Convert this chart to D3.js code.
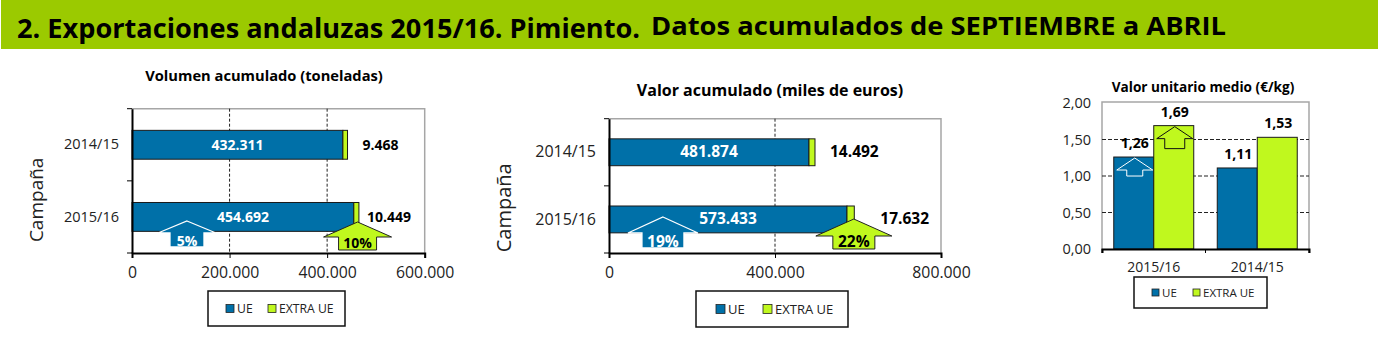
<!DOCTYPE html>
<html>
<head>
<meta charset="utf-8">
<script src="https://cdn.jsdelivr.net/npm/d3@7/dist/d3.min.js"></script>
<style>
  html, body { margin: 0; padding: 0; background: #fff; }
  svg { display: block; }
  text { font-family: 'Open Sans', sans-serif; fill: #222; }
  .bold { font-weight: 700; fill: #000; }
</style>
</head>
<body>
<svg id="chart" width="1378" height="351"></svg>
<script>
const campaigns = ['2014/15', '2015/16'];
const seriesNames = ['UE', 'EXTRA UE'];

const volumeUe = [432311, 454692];
const volumeExtra = [9468, 10449];
const volumeTicks = [0, 200000, 400000, 600000];
const volumeChange = ['5%', '10%'];

const valueUe = [481874, 573433];
const valueExtra = [14492, 17632];
const valueTicks = [0, 400000, 800000];
const valueChange = ['19%', '22%'];

const unitCampaigns = ['2015/16', '2014/15'];
const unitUe = [1.26, 1.11];
const unitExtra = [1.69, 1.53];
const unitTicks = [0, 0.5, 1, 1.5, 2];

const blue = '#0070a8',
  green = '#c0f81e',
  banner = '#9bca00',
  frame = '#a6a6a6';

const esLocale = d3.formatLocale({
  decimal: ',',
  thousands: '.',
  grouping: [3],
  currency: ['', ''],
});
const fmtInt = esLocale.format(',d');
const fmtDec = esLocale.format('.2f');

const svg = d3.select('#chart');

// header banner
svg.append('rect').attr('x', 1).attr('y', 0).attr('width', 1377).attr('height', 49).attr('fill', banner);
svg.append('text').attr('class', 'bold').attr('x', 17).attr('y', 38)
  .attr('font-size', 26).attr('textLength', 623).attr('lengthAdjust', 'spacingAndGlyphs')
  .text('2. Exportaciones andaluzas 2015/16. Pimiento.');
svg.append('text').attr('class', 'bold').attr('x', 651).attr('y', 35)
  .attr('font-size', 25).attr('textLength', 575).attr('lengthAdjust', 'spacingAndGlyphs')
  .text('Datos acumulados de SEPTIEMBRE a ABRIL');

// up arrow, tip at (cx, tip)
const arrowPath = (cx, tip, wing, head, shaft, total) => {
  const p = d3.path();
  p.moveTo(cx, tip);
  p.lineTo(cx + wing, tip + head);
  p.lineTo(cx + shaft, tip + head);
  p.lineTo(cx + shaft, tip + total);
  p.lineTo(cx - shaft, tip + total);
  p.lineTo(cx - shaft, tip + head);
  p.lineTo(cx - wing, tip + head);
  p.closePath();
  return p.toString();
};

function legend(o) {
  const g = svg.append('g');
  g.append('rect').attr('x', o.x).attr('y', o.y).attr('width', o.w).attr('height', o.h)
    .attr('fill', '#fff').attr('stroke', '#111').attr('stroke-width', 1.5);
  seriesNames.forEach((name, i) => {
    const cy = o.y + o.h / 2;
    g.append('rect').attr('x', o.swatch[i]).attr('y', cy - o.size / 2)
      .attr('width', o.size).attr('height', o.size)
      .attr('fill', i ? green : blue).attr('stroke', '#222').attr('stroke-width', 0.8);
    g.append('text').attr('x', o.swatch[i] + o.size + 3).attr('y', cy + o.font * 0.36)
      .attr('font-size', o.font).text(name);
  });
}

function hbarChart(o) {
  const g = svg.append('g');
  const [left, right] = o.xRange;
  const [top, bottom] = o.yRange;

  const x = d3.scaleLinear().domain(d3.extent(o.ticks)).range(o.xRange);
  const y = d3.scaleBand().domain(campaigns).range(o.yRange).paddingInner(o.padding).paddingOuter(o.padding / 2);

  // frame and dashed grid
  g.append('path').attr('d', `M${left},${top}H${right}V${bottom}`)
    .attr('fill', 'none').attr('stroke', frame).attr('stroke-width', 1.5);
  g.selectAll('.grid').data(o.ticks.slice(1, -1)).enter().append('line')
    .attr('x1', d => x(d)).attr('x2', d => x(d)).attr('y1', top).attr('y2', bottom)
    .attr('stroke', '#222').attr('stroke-width', 1).attr('stroke-dasharray', '3,2');

  // bars
  campaigns.forEach((c, i) => {
    const ue = o.ue[i], extra = o.extra[i];
    g.append('rect').attr('x', x(0)).attr('y', y(c)).attr('width', x(ue) - x(0)).attr('height', y.bandwidth())
      .attr('fill', blue).attr('stroke', '#1a1a1a').attr('stroke-width', 1);
    g.append('rect').attr('x', x(ue)).attr('y', y(c)).attr('width', x(ue + extra) - x(ue)).attr('height', y.bandwidth())
      .attr('fill', green).attr('stroke', '#1a1a1a').attr('stroke-width', 1);
    g.append('text').attr('class', 'bold').style('fill', '#fff')
      .attr('x', x(ue / 2)).attr('y', y(c) + y.bandwidth() / 2 + 5)
      .attr('text-anchor', 'middle').attr('font-size', o.valueFont).text(fmtInt(ue));
    g.append('text').attr('class', 'bold')
      .attr('x', x(ue + extra) + o.extraGap[i]).attr('y', y(c) + y.bandwidth() / 2 + 5)
      .attr('font-size', o.valueFont).text(fmtInt(extra));
  });

  // change arrows on the last campaign
  const blueArrow = o.blueArrow, greenArrow = o.greenArrow;
  g.append('path').attr('d', arrowPath(x(blueArrow.at), blueArrow.tip, blueArrow.wing, blueArrow.head, blueArrow.shaft, blueArrow.total))
    .attr('fill', blue).attr('stroke', '#fff').attr('stroke-width', 1.3);
  g.append('text').attr('class', 'bold').style('fill', '#fff').attr('text-anchor', 'middle')
    .attr('x', x(blueArrow.at)).attr('y', blueArrow.tip + blueArrow.total - 1.5)
    .attr('font-size', o.valueFont).text(o.change[0]);
  g.append('path').attr('d', arrowPath(x(greenArrow.at), greenArrow.tip, greenArrow.wing, greenArrow.head, greenArrow.shaft, greenArrow.total))
    .attr('fill', green).attr('stroke', '#222').attr('stroke-width', 1);
  g.append('text').attr('class', 'bold').attr('text-anchor', 'middle')
    .attr('x', x(greenArrow.at)).attr('y', greenArrow.tip + greenArrow.total - 2)
    .attr('font-size', o.valueFont).text(o.change[1]);

  // axes
  const xAxis = g.append('g').attr('transform', `translate(0,${bottom})`)
    .call(d3.axisBottom(x).tickValues(o.ticks).tickFormat(fmtInt).tickSize(5).tickPadding(9));
  xAxis.select('.domain').attr('stroke', '#000').attr('stroke-width', 2);
  xAxis.selectAll('.tick line').attr('stroke', '#000').attr('stroke-width', 1);
  xAxis.selectAll('text').attr('font-size', 15.8).attr('font-family', null);

  const yAxis = g.append('g').attr('transform', `translate(${left},0)`)
    .call(d3.axisLeft(y).tickSize(0).tickPadding(13));
  yAxis.select('.domain').attr('stroke', '#000').attr('stroke-width', 2);
  yAxis.selectAll('text').attr('font-size', o.catFont).attr('font-family', null);
  // y ticks sit between the categories
  g.selectAll('.ytick').data([top, (top + bottom) / 2, bottom]).enter().append('line')
    .attr('x1', left - 5).attr('x2', left).attr('y1', d => d).attr('y2', d => d)
    .attr('stroke', '#000').attr('stroke-width', 1);

  g.append('text').attr('class', 'bold').attr('x', o.title.x).attr('y', o.title.y)
    .attr('text-anchor', 'middle').attr('font-size', o.title.size).text(o.title.text);
  g.append('text').attr('transform', `translate(${o.yLabelX},${(top + bottom) / 2 + o.yLabelShift}) rotate(-90)`)
    .attr('text-anchor', 'middle').attr('font-size', o.yLabelFont).text('Campaña');

  legend(o.legend);
}

hbarChart({
  xRange: [132, 424.7],
  yRange: [108.7, 253],
  padding: 0.6,
  ticks: volumeTicks,
  ue: volumeUe,
  extra: volumeExtra,
  change: volumeChange,
  extraGap: [15, 8],
  valueFont: 14,
  catFont: 14.5,
  yLabelFont: 19,
  blueArrow: { at: 112700, tip: 221, wing: 29, head: 12, shaft: 17, total: 26 },
  greenArrow: { at: 462400, tip: 222, wing: 34, head: 15, shaft: 19, total: 28 },
  title: { text: 'Volumen acumulado (toneladas)', x: 264, y: 81, size: 14.7 },
  yLabelX: 43,
  yLabelShift: 19,
  legend: { x: 208, y: 291, w: 137, h: 35, swatch: [226, 268], size: 8, font: 12.2 },
});

hbarChart({
  xRange: [609, 941],
  yRange: [118.7, 253],
  padding: 0.6,
  ticks: valueTicks,
  ue: valueUe,
  extra: valueExtra,
  change: valueChange,
  extraGap: [15, 26],
  valueFont: 15.5,
  catFont: 16,
  yLabelFont: 20,
  blueArrow: { at: 130000, tip: 217, wing: 35, head: 16, shaft: 21, total: 31 },
  greenArrow: { at: 590000, tip: 219, wing: 38, head: 17, shaft: 21, total: 30 },
  title: { text: 'Valor acumulado (miles de euros)', x: 770, y: 96, size: 16 },
  yLabelX: 511,
  yLabelShift: 22,
  legend: { x: 696, y: 291, w: 152, h: 36, swatch: [716, 763], size: 9, font: 13 },
});

// unit value column chart
(function unitChart() {
  const g = svg.append('g');
  const left = 1102, right = 1309, top = 102, bottom = 249;
  const x = d3.scaleBand().domain(unitCampaigns).range([left, right]);
  const inner = d3.scaleBand().domain(seriesNames).range([0, x.bandwidth()]).paddingOuter(0.294).paddingInner(0);
  const y = d3.scaleLinear().domain(d3.extent(unitTicks)).range([bottom, top + 1]);

  g.append('path').attr('d', `M${left},${bottom}V${top}H${right}V${bottom}`)
    .attr('fill', 'none').attr('stroke', frame).attr('stroke-width', 1.5);
  g.selectAll('.grid').data(unitTicks.slice(1, -1)).enter().append('line')
    .attr('x1', left).attr('x2', right).attr('y1', d => y(d)).attr('y2', d => y(d))
    .attr('stroke', '#222').attr('stroke-width', 1.2).attr('stroke-dasharray', '4,2');

  unitCampaigns.forEach((c, i) => {
    [unitUe, unitExtra].forEach((vals, s) => {
      const bx = x(c) + inner(seriesNames[s]);
      g.append('rect').attr('x', bx).attr('y', y(vals[i])).attr('width', inner.bandwidth()).attr('height', bottom - y(vals[i]))
        .attr('fill', s ? green : blue).attr('stroke', '#1a1a1a').attr('stroke-width', 1);
      g.append('text').attr('class', 'bold').attr('text-anchor', 'middle')
        .attr('x', bx + inner.bandwidth() / 2 + 1).attr('y', y(vals[i]) - 9)
        .attr('font-size', 14).text(fmtDec(vals[i]));
    });
  });

  // outline arrows on 2015/16
  const c0 = x(unitCampaigns[0]);
  g.append('path').attr('d', arrowPath(c0 + inner(seriesNames[0]) + inner.bandwidth() / 2 + 1, y(unitUe[0]) + 1, 18, 12, 8, 18))
    .attr('fill', 'none').attr('stroke', '#fff').attr('stroke-width', 1);
  g.append('path').attr('d', arrowPath(c0 + inner(seriesNames[1]) + inner.bandwidth() / 2 + 1, y(unitExtra[0]) + 1, 18, 12, 10, 22))
    .attr('fill', 'none').attr('stroke', '#111').attr('stroke-width', 1);

  const xAxis = g.append('g').attr('transform', `translate(0,${bottom})`)
    .call(d3.axisBottom(x).tickSize(4).tickPadding(9));
  xAxis.select('.domain').attr('stroke', '#000').attr('stroke-width', 2);
  xAxis.selectAll('.tick line').remove();
  xAxis.selectAll('text').attr('font-size', 14).attr('font-family', null);
  g.selectAll('.xtick').data([left, (left + right) / 2, right]).enter().append('line')
    .attr('x1', d => d).attr('x2', d => d).attr('y1', bottom).attr('y2', bottom + 4)
    .attr('stroke', '#000');

  const yAxis = g.append('g').attr('transform', `translate(${left},0)`)
    .call(d3.axisLeft(y).tickValues(unitTicks).tickFormat(fmtDec).tickSize(0).tickPadding(11));
  yAxis.select('.domain').remove();
  yAxis.selectAll('text').attr('font-size', 14.5).attr('font-family', null);

  g.append('text').attr('class', 'bold').attr('x', 1203).attr('y', 92)
    .attr('text-anchor', 'middle').attr('font-size', 13.6).text('Valor unitario medio (€/kg)');

  legend({ x: 1134, y: 277, w: 133, h: 31, swatch: [1152, 1193], size: 7, font: 11.5 });
})();
</script>
</body>
</html>
